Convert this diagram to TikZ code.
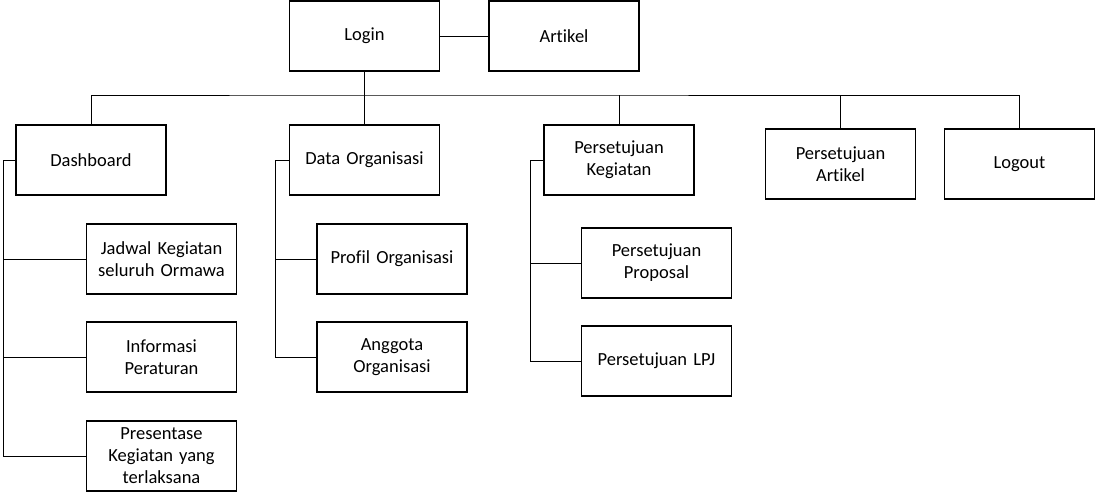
\documentclass[tikz,border=0pt]{standalone}
\usepackage{fontspec}
\setmainfont{Carlito}[Ligatures={NoCommon}]
\begin{document}
\begin{tikzpicture}[x=1pt,y=-1pt,
  box/.style={draw,line width=1.1pt,minimum width=150pt,minimum height=70pt,inner sep=0pt,
    text width=146pt,align=center,font=\fontsize{18.5}{22}\selectfont},
  conn/.style={line width=1pt}]
\useasboundingbox (0,0) rectangle (1097,499);
\node[box] (login) at (364.5,36) {Login};
\node[box] (artikel) at (564,36) {Artikel};
\node[box] (dash) at (91,160) {Dashboard};
\node[box] (dorg) at (364.5,160) {Data Organisasi};
\node[box] (pkeg) at (619,160) {Persetujuan\\Kegiatan};
\node[box] (part) at (840.5,164) {Persetujuan\\Artikel};
\node[box] (logout) at (1019.5,164) {Logout};
\node[box] (jadwal) at (161.5,259) {Jadwal Kegiatan\\seluruh Ormawa};
\node[box] (info) at (161.5,357) {Informasi\\Peraturan};
\node[box] (pres) at (161.5,456) {Presentase\\Kegiatan yang\\terlaksana};
\node[box] (profil) at (392,259) {Profil Organisasi};
\node[box] (anggota) at (392,357) {Anggota\\Organisasi};
\node[box] (pprop) at (656.5,263) {Persetujuan\\Proposal};
\node[box] (plpj) at (656.5,361) {Persetujuan LPJ};
\coordinate (bus) at (364.5,95);
\coordinate (dl) at (3,160);
\coordinate (ol) at (275,160);
\coordinate (kl) at (530,160);
\draw[conn] (login) -- (artikel);
\draw[conn] (login.south) -- (bus);
\draw[conn] (dash.north) |- (bus) -| (logout.north);
\draw[conn] (dorg.north) -- (dorg.north |- bus);
\draw[conn] (pkeg.north) -- (pkeg.north |- bus);
\draw[conn] (part.north) -- (part.north |- bus);
\draw[conn] (dash.west) -- (dl) |- (pres.west);
\draw[conn] (dl |- jadwal.west) -- (jadwal.west);
\draw[conn] (dl |- info.west) -- (info.west);
\draw[conn] (dorg.west) -- (ol) |- (anggota.west);
\draw[conn] (ol |- profil.west) -- (profil.west);
\draw[conn] (pkeg.west) -- (kl) |- (plpj.west);
\draw[conn] (kl |- pprop.west) -- (pprop.west);
\end{tikzpicture}
\end{document}
